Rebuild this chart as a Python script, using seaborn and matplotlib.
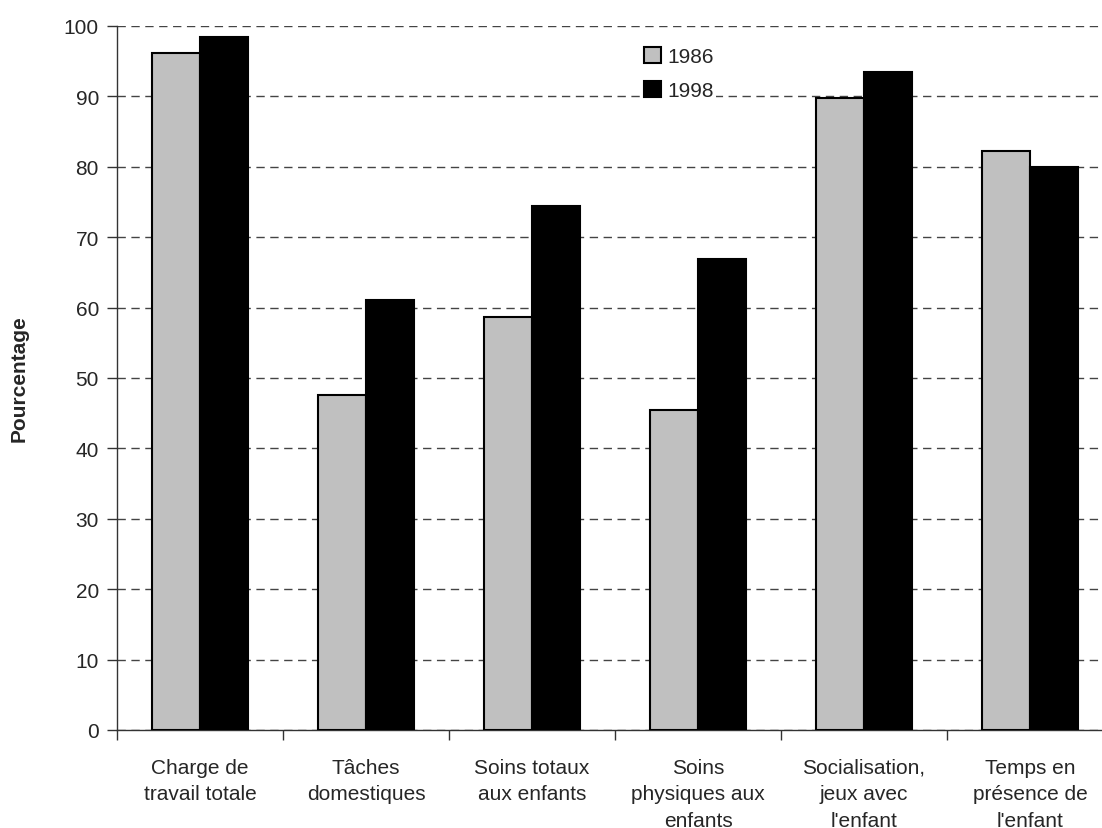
import pandas as pd
import matplotlib
matplotlib.use("Agg")
import matplotlib.pyplot as plt
import seaborn as sns
from matplotlib.ticker import FixedLocator

# --- Data ---
categories = [
    "Charge de\ntravail totale",
    "Tâches\ndomestiques",
    "Soins totaux\naux enfants",
    "Soins\nphysiques aux\nenfants",
    "Socialisation,\njeux avec\nl'enfant",
    "Temps en\nprésence de\nl'enfant",
]
years = ["1986", "1998"]
values_1986 = [96.2, 47.6, 58.6, 45.4, 89.8, 82.2]
values_1998 = [98.5, 61.1, 74.4, 66.9, 93.5, 80.0]
yticks = list(range(0, 101, 10))

df = pd.DataFrame({
    "categorie": categories * 2,
    "annee": [years[0]] * len(categories) + [years[1]] * len(categories),
    "pourcentage": values_1986 + values_1998,
})

# --- Style ---
sns.set_style("white")
plt.rcParams["font.family"] = ["Liberation Sans", "DejaVu Sans"]

fig = plt.figure(figsize=(11.02, 8.29), dpi=100)
ax = fig.add_axes([117 / 1102, 98 / 829, (1113 - 117) / 1102, (731 - 27) / 829])

sns.barplot(
    data=df, x="categorie", y="pourcentage", hue="annee",
    palette={"1986": "#C0C0C0", "1998": "#000000"},
    width=0.58, gap=0, edgecolor="black", linewidth=1.5,
    saturation=1, ax=ax, legend=True, zorder=3,
)

# --- Axes ---
ax.set_ylim(0, 100)
ax.set_xlim(-0.5, len(categories) - 0.5)
ax.set_yticks(yticks)
ax.yaxis.grid(True, linestyle=(0, (6, 4)), color="#444444", linewidth=1, zorder=0)
ax.set_axisbelow(True)

for side in ["top", "right"]:
    ax.spines[side].set_visible(False)
for side in ["left", "bottom"]:
    ax.spines[side].set_color("#333333")
    ax.spines[side].set_linewidth(1)

ax.tick_params(axis="y", direction="out", length=7, width=1, color="#333333",
               labelsize=15, pad=6, left=True)
ax.tick_params(axis="x", which="major", length=0, labelsize=15, pad=20)
ax.xaxis.set_minor_locator(FixedLocator([i - 0.5 for i in range(len(categories) + 1)]))
ax.tick_params(axis="x", which="minor", direction="out", length=7, width=1,
               color="#333333", bottom=True)
for lbl in ax.get_xticklabels():
    lbl.set_linespacing(1.5)

ax.set_xlabel("")
ax.set_ylabel("Pourcentage", fontsize=15, fontweight="bold", labelpad=25)

# --- Legend ---
handles, labels = ax.get_legend_handles_labels()
for h in handles:
    h.set_edgecolor("black")
    h.set_linewidth(1.5)
leg = ax.legend(handles, labels, loc="upper left", bbox_to_anchor=(642 / 1102, 1 - 46 / 829),
                bbox_transform=fig.transFigure, frameon=True, fontsize=15,
                handlelength=0.8, handleheight=0.8, handletextpad=0.3, labelspacing=0.7,
                borderpad=0.1, borderaxespad=0)
leg.get_frame().set_facecolor("white")
leg.get_frame().set_edgecolor("none")
leg.get_frame().set_alpha(1)

plt.savefig("out.png", dpi=100)
